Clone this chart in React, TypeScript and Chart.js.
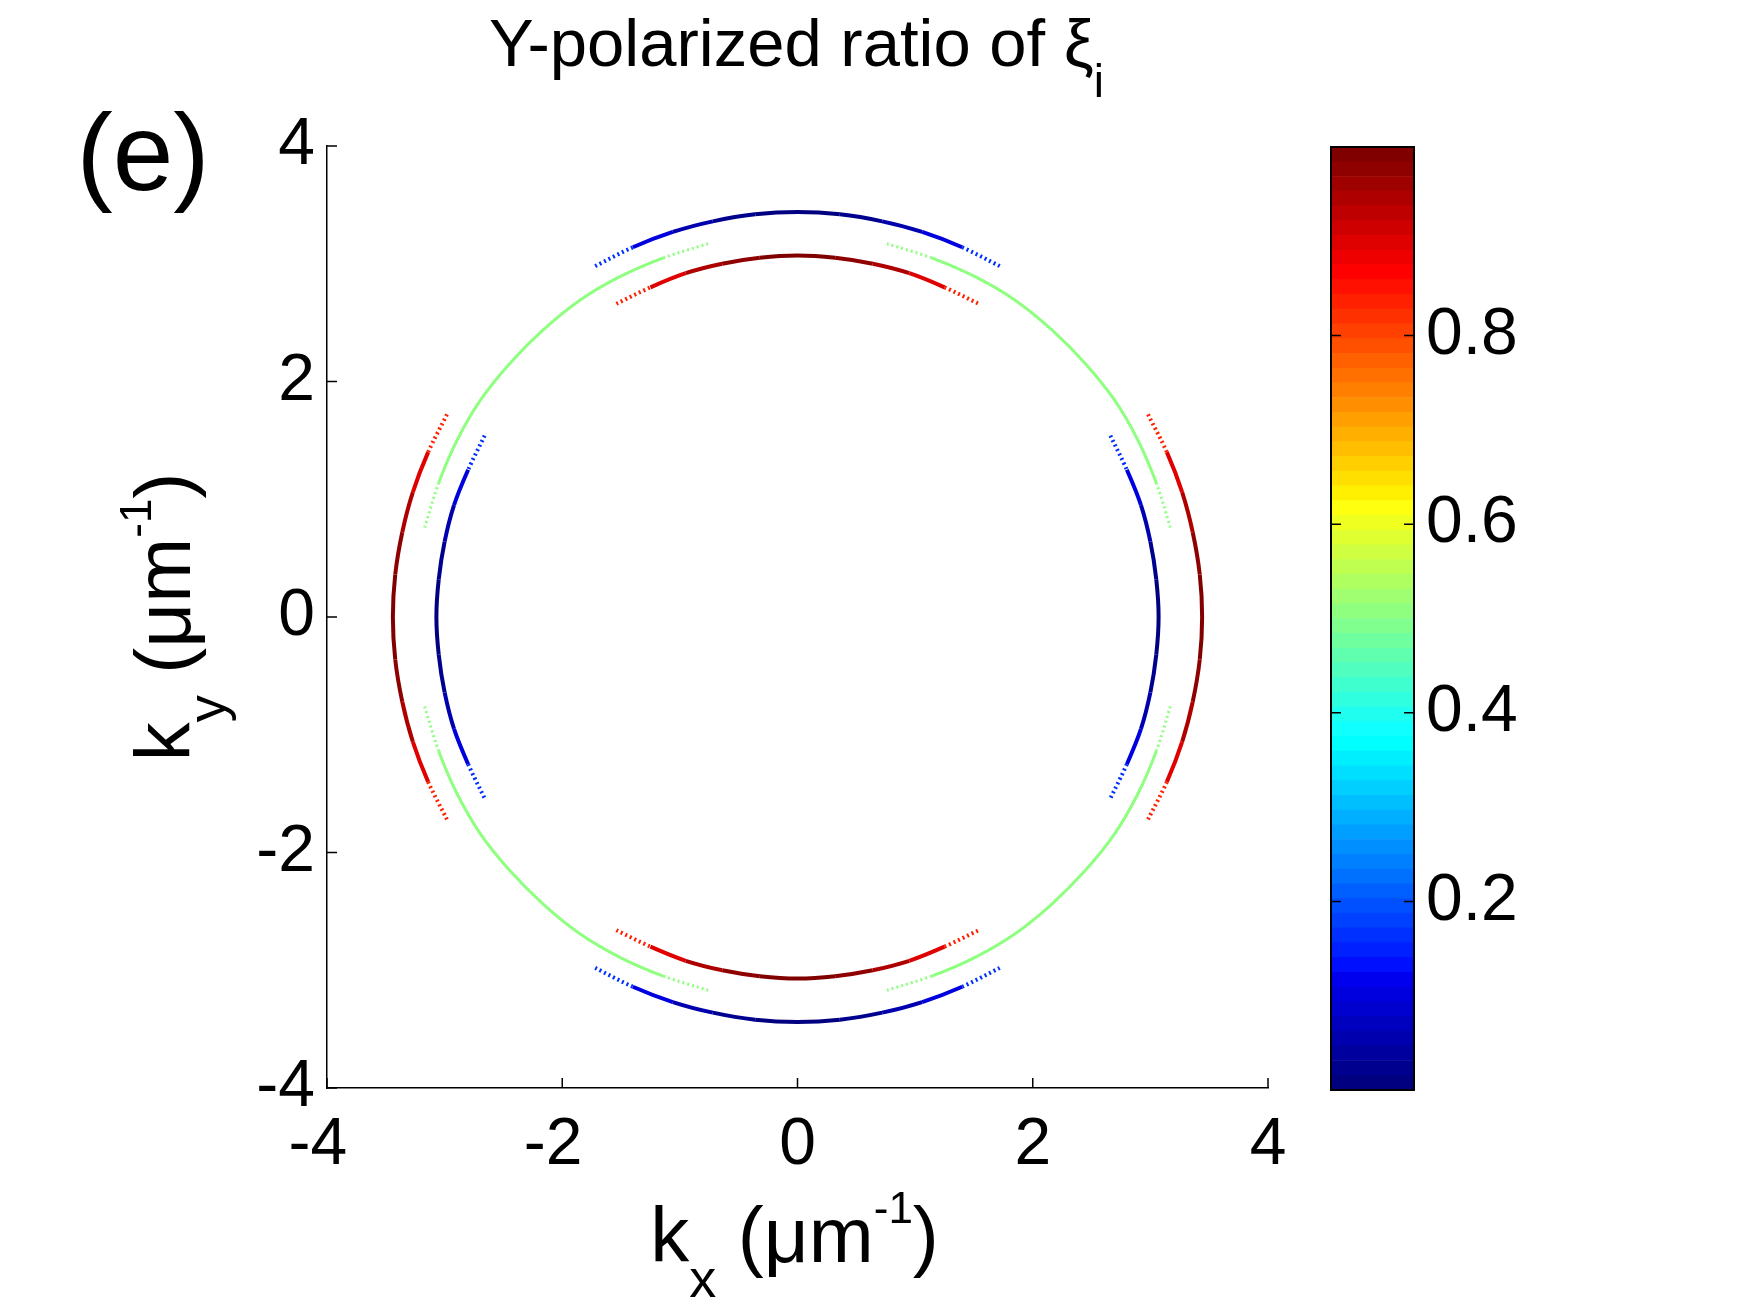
import { useEffect, useRef } from 'react';
import { Chart, registerables } from 'chart.js';

Chart.register(...registerables);

const FONT = '"Liberation Sans", Arial, Helvetica, sans-serif';

// tick labels
const axisTicks = [-4, -2, 0, 2, 4];
const colorbarTicks = [0.2, 0.4, 0.6, 0.8];

// outer ring (r ~ 3.44 um^-1), read every 6 deg over +-30 deg round each axis
const outerTopKx = [-1.72, -1.4, -1.06, -0.72, -0.36, 0, 0.36, 0.72, 1.06, 1.4, 1.72];
const outerTopKy = [2.98, 3.14, 3.27, 3.36, 3.42, 3.44, 3.42, 3.36, 3.27, 3.14, 2.98];
const outerBottomKx = [-1.72, -1.4, -1.06, -0.72, -0.36, 0, 0.36, 0.72, 1.06, 1.4, 1.72];
const outerBottomKy = [-2.98, -3.14, -3.27, -3.36, -3.42, -3.44, -3.42, -3.36, -3.27, -3.14, -2.98];
const outerLeftKx = [-2.98, -3.14, -3.27, -3.36, -3.42, -3.44, -3.42, -3.36, -3.27, -3.14, -2.98];
const outerLeftKy = [1.72, 1.4, 1.06, 0.72, 0.36, 0, -0.36, -0.72, -1.06, -1.4, -1.72];
const outerRightKx = [2.98, 3.14, 3.27, 3.36, 3.42, 3.44, 3.42, 3.36, 3.27, 3.14, 2.98];
const outerRightKy = [1.72, 1.4, 1.06, 0.72, 0.36, 0, -0.36, -0.72, -1.06, -1.4, -1.72];

// inner ring (r ~ 3.07 um^-1)
const innerTopKx = [-1.54, -1.25, -0.95, -0.64, -0.32, 0, 0.32, 0.64, 0.95, 1.25, 1.54];
const innerTopKy = [2.66, 2.8, 2.92, 3.0, 3.05, 3.07, 3.05, 3.0, 2.92, 2.8, 2.66];
const innerBottomKx = [-1.54, -1.25, -0.95, -0.64, -0.32, 0, 0.32, 0.64, 0.95, 1.25, 1.54];
const innerBottomKy = [-2.66, -2.8, -2.92, -3.0, -3.05, -3.07, -3.05, -3.0, -2.92, -2.8, -2.66];
const innerLeftKx = [-2.66, -2.8, -2.92, -3.0, -3.05, -3.07, -3.05, -3.0, -2.92, -2.8, -2.66];
const innerLeftKy = [1.54, 1.25, 0.95, 0.64, 0.32, 0, -0.32, -0.64, -0.95, -1.25, -1.54];
const innerRightKx = [2.66, 2.8, 2.92, 3.0, 3.05, 3.07, 3.05, 3.0, 2.92, 2.8, 2.66];
const innerRightKy = [1.54, 1.25, 0.95, 0.64, 0.32, 0, -0.32, -0.64, -0.95, -1.25, -1.54];

// middle ring (r ~ 3.26 um^-1), one arc per quadrant
const greenQ1Kx = [3.17, 3.05, 2.89, 2.69, 2.44, 2.16, 1.85, 1.51, 1.14, 0.76];
const greenQ1Ky = [0.76, 1.14, 1.51, 1.85, 2.16, 2.44, 2.69, 2.89, 3.05, 3.17];
const greenQ2Kx = [-0.76, -1.14, -1.51, -1.85, -2.16, -2.44, -2.69, -2.89, -3.05, -3.17];
const greenQ2Ky = [3.17, 3.05, 2.89, 2.69, 2.44, 2.16, 1.85, 1.51, 1.14, 0.76];
const greenQ3Kx = [-3.17, -3.05, -2.89, -2.69, -2.44, -2.16, -1.85, -1.51, -1.14, -0.76];
const greenQ3Ky = [-0.76, -1.14, -1.51, -1.85, -2.16, -2.44, -2.69, -2.89, -3.05, -3.17];
const greenQ4Kx = [0.76, 1.14, 1.51, 1.85, 2.16, 2.44, 2.69, 2.89, 3.05, 3.17];
const greenQ4Ky = [-3.17, -3.05, -2.89, -2.69, -2.44, -2.16, -1.85, -1.51, -1.14, -0.76];

// Y-polarized ratio along each arc
const blueArcRatio = [0.21, 0.13, 0.08, 0.03, 0.005, 0.0, 0.005, 0.03, 0.08, 0.13, 0.21];
const redArcRatio = [0.79, 0.87, 0.92, 0.97, 0.995, 1.0, 0.995, 0.97, 0.92, 0.87, 0.79];
const greenArcRatio = [0.52, 0.51, 0.5, 0.5, 0.5, 0.5, 0.5, 0.5, 0.51, 0.52];

const arcs = [
  { kx: outerTopKx, ky: outerTopKy, ratio: blueArcRatio, width: 4 },
  { kx: outerBottomKx, ky: outerBottomKy, ratio: blueArcRatio, width: 4 },
  { kx: outerLeftKx, ky: outerLeftKy, ratio: redArcRatio, width: 4 },
  { kx: outerRightKx, ky: outerRightKy, ratio: redArcRatio, width: 4 },
  { kx: innerTopKx, ky: innerTopKy, ratio: redArcRatio, width: 4 },
  { kx: innerBottomKx, ky: innerBottomKy, ratio: redArcRatio, width: 4 },
  { kx: innerLeftKx, ky: innerLeftKy, ratio: blueArcRatio, width: 4 },
  { kx: innerRightKx, ky: innerRightKy, ratio: blueArcRatio, width: 4 },
  { kx: greenQ1Kx, ky: greenQ1Ky, ratio: greenArcRatio, width: 3 },
  { kx: greenQ2Kx, ky: greenQ2Ky, ratio: greenArcRatio, width: 3 },
  { kx: greenQ3Kx, ky: greenQ3Ky, ratio: greenArcRatio, width: 3 },
  { kx: greenQ4Kx, ky: greenQ4Ky, ratio: greenArcRatio, width: 3 },
];

// matlab jet(64)
function jetColor(v: number) {
  const p = Math.min(64, Math.max(1, Math.floor(v * 64) + 1));
  const ch = (a: number, b: number) => Math.round(255 * Math.min(1, Math.max(0, Math.min(a, b) / 16)));
  return `rgb(${ch(p - 24, 72 - p)},${ch(p - 8, 56 - p)},${ch(p + 7, 41 - p)})`;
}

type Part = [string, number, number];

function drawParts(ctx: CanvasRenderingContext2D, parts: Part[], cx: number, base: number, angle = 0) {
  ctx.save();
  ctx.translate(cx, base);
  ctx.rotate(angle);
  ctx.fillStyle = '#000';
  ctx.textAlign = 'left';
  ctx.textBaseline = 'alphabetic';
  const widths = parts.map(([t, size]) => {
    ctx.font = `${size}px ${FONT}`;
    return ctx.measureText(t).width;
  });
  let x = -widths.reduce((a, b) => a + b, 0) / 2;
  parts.forEach(([t, size, dy], i) => {
    ctx.font = `${size}px ${FONT}`;
    ctx.fillText(t, x, dy);
    x += widths[i];
  });
  ctx.restore();
}

const figureText = {
  id: 'figureText',
  afterDraw(chart: any) {
    const { ctx, chartArea } = chart;
    const xs = chart.scales.x;
    const ys = chart.scales.y;
    ctx.save();
    ctx.strokeStyle = '#000';
    ctx.lineWidth = 1.5;
    ctx.beginPath();
    axisTicks.forEach((v) => {
      const px = xs.getPixelForValue(v);
      ctx.moveTo(px, chartArea.bottom);
      ctx.lineTo(px, chartArea.bottom - 10);
      const py = ys.getPixelForValue(v);
      ctx.moveTo(chartArea.left, py);
      ctx.lineTo(chartArea.left + 10, py);
    });
    ctx.stroke();
    ctx.restore();

    const mid = (chartArea.left + chartArea.right) / 2;
    drawParts(ctx, [['Y-polarized ratio of ξ', 67, 0], ['i', 46, 31]], mid - 1, 66);
    drawParts(ctx, [['(e)', 109, 0]], 143, 190);
    const label = (sub: string): Part[] => [
      ['k', 78, 0],
      [sub, 54, 35],
      [' (μm', 78, 0],
      ['-1', 44, -39],
      [')', 78, 0],
    ];
    drawParts(ctx, label('x'), mid - 3, 1262);
    drawParts(ctx, label('y'), 190, (chartArea.top + chartArea.bottom) / 2, -Math.PI / 2);
  },
};

const colorbarFrame = {
  id: 'colorbarFrame',
  afterDraw(chart: any) {
    const { ctx, chartArea } = chart;
    const ys = chart.scales.y;
    ctx.save();
    ctx.strokeStyle = '#000';
    ctx.lineWidth = 2;
    ctx.strokeRect(chartArea.left, chartArea.top, chartArea.right - chartArea.left, chartArea.bottom - chartArea.top);
    ctx.lineWidth = 1.5;
    ctx.beginPath();
    colorbarTicks.forEach((v) => {
      const py = ys.getPixelForValue(v);
      ctx.moveTo(chartArea.left, py);
      ctx.lineTo(chartArea.left + 10, py);
      ctx.moveTo(chartArea.right, py);
      ctx.lineTo(chartArea.right - 10, py);
    });
    ctx.stroke();
    ctx.restore();
  },
};

const tickFont = { family: FONT, size: 66 };

export default function App() {
  const mainRef = useRef<HTMLCanvasElement>(null);
  const barRef = useRef<HTMLCanvasElement>(null);

  useEffect(() => {
    if (!mainRef.current || !barRef.current) return;

    const main = new Chart(mainRef.current, {
      type: 'line',
      data: {
        datasets: arcs.map((arc) => ({
          data: arc.kx.map((x, i) => ({ x, y: arc.ky[i] })),
          borderWidth: arc.width,
          borderColor: jetColor(arc.ratio[Math.floor(arc.ratio.length / 2)]),
          pointRadius: 0,
          tension: 0.3,
          fill: false,
          segment: {
            borderColor: (c: any) => jetColor((arc.ratio[c.p0DataIndex] + arc.ratio[c.p1DataIndex]) / 2),
            borderDash: (c: any) =>
              c.p0DataIndex === 0 || c.p1DataIndex === arc.kx.length - 1 ? [2, 3] : undefined,
          },
        })),
      },
      options: {
        animation: false,
        responsive: false,
        events: [],
        layout: { padding: { left: 0, top: 146, right: 52, bottom: 0 } },
        plugins: { legend: { display: false }, tooltip: { enabled: false } },
        scales: {
          x: {
            type: 'linear',
            min: -4,
            max: 4,
            afterBuildTicks: (s: any) => { s.ticks = axisTicks.map((value) => ({ value })); },
            afterFit: (s: any) => { s.height = 225; },
            grid: { display: false, drawTicks: false },
            border: { display: true, color: '#000', width: 1.5 },
            ticks: {
              color: '#000',
              font: tickFont,
              padding: 18,
              maxRotation: 0,
              autoSkip: false,
              // negative labels sit a little left of the tick, as in the source figure
              callback: (v: any) => (v < 0 ? `${v} ` : String(v)),
            },
          },
          y: {
            type: 'linear',
            min: -4,
            max: 4,
            afterBuildTicks: (s: any) => { s.ticks = axisTicks.map((value) => ({ value })); },
            afterFit: (s: any) => { s.width = 327; },
            grid: { display: false, drawTicks: false },
            border: { display: true, color: '#000', width: 1.5 },
            ticks: { color: '#000', font: tickFont, padding: 12, autoSkip: false, callback: (v: any) => String(v) },
          },
        },
      },
      plugins: [figureText],
    } as any);

    const levels = Array.from({ length: 64 }, (_, i) => (i + 0.5) / 64);
    const bar = new Chart(barRef.current, {
      type: 'bar',
      data: {
        labels: [''],
        datasets: levels.map((v) => ({
          data: [1 / 64],
          backgroundColor: jetColor(v),
          borderWidth: 0,
          barPercentage: 1,
          categoryPercentage: 1,
          stack: 'cb',
        })),
      },
      options: {
        animation: false,
        responsive: false,
        events: [],
        layout: { padding: { left: 51, top: 147, right: 0, bottom: 223 } },
        plugins: { legend: { display: false }, tooltip: { enabled: false } },
        scales: {
          x: { stacked: true, display: false },
          y: {
            stacked: true,
            position: 'right',
            min: 0,
            max: 1,
            afterBuildTicks: (s: any) => { s.ticks = colorbarTicks.map((value) => ({ value })); },
            afterFit: (s: any) => { s.width = 337; },
            grid: { display: false, drawTicks: false },
            border: { display: false },
            ticks: { color: '#000', font: tickFont, padding: 12, callback: (v: any) => Number(v).toFixed(1) },
          },
        },
      },
      plugins: [colorbarFrame],
    } as any);

    return () => {
      main.destroy();
      bar.destroy();
    };
  }, []);

  return (
    <div style={{ position: 'fixed', left: 0, top: 0, width: 1751, height: 1313, background: '#fff' }}>
      <canvas ref={mainRef} width={1320} height={1313} style={{ position: 'absolute', left: 0, top: 0 }} />
      <canvas ref={barRef} width={471} height={1313} style={{ position: 'absolute', left: 1280, top: 0 }} />
    </div>
  );
}
